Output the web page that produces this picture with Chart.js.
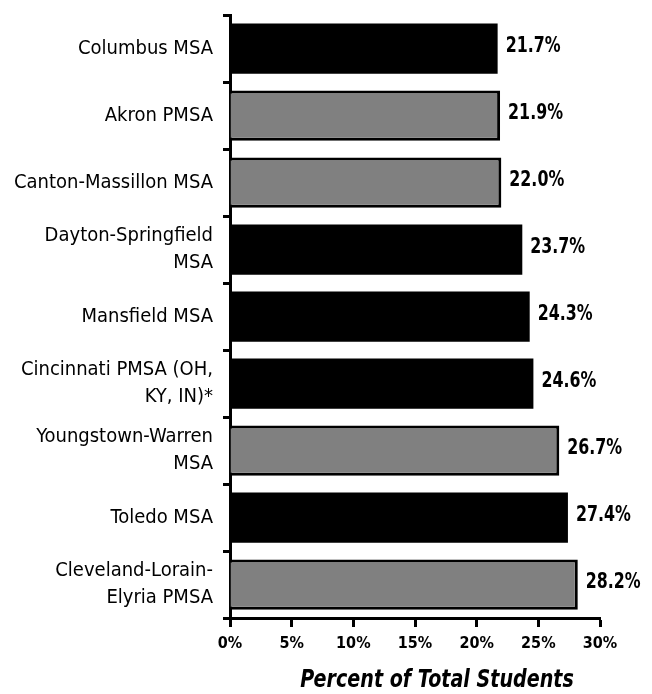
<!DOCTYPE html>
<html>
<head>
<meta charset="utf-8">
<script src="https://cdn.jsdelivr.net/npm/chart.js@4.4.1/dist/chart.umd.min.js"></script>
<style>
  html, body { margin: 0; background: #fff; }
  canvas { display: block; }
</style>
</head>
<body>
<canvas id="chart" width="652" height="694"></canvas>
<script>
// data
const areas = [
  ['Columbus MSA'],
  ['Akron PMSA'],
  ['Canton-Massillon MSA'],
  ['Dayton-Springfield', 'MSA'],
  ['Mansfield MSA'],
  ['Cincinnati PMSA (OH,', 'KY, IN)*'],
  ['Youngstown-Warren', 'MSA'],
  ['Toledo MSA'],
  ['Cleveland-Lorain-', 'Elyria PMSA']
];
const shares = [21.7, 21.9, 22.0, 23.7, 24.3, 24.6, 26.7, 27.4, 28.2];
// which areas are drawn as grey bars in the original
const greyGroup = [false, true, true, false, false, false, true, false, true];
const xTicks = [0, 5, 10, 15, 20, 25, 30];
const xTitle = 'Percent of Total Students';

const FONT = "'Liberation Sans Narrow', 'DejaVu Sans Condensed', sans-serif";

// value labels + axis title, drawn a bit squeezed to look like the condensed original font
const extraText = {
  id: 'extraText',
  afterDatasetsDraw(chart) {
    const ctx = chart.ctx;
    const meta = chart.getDatasetMeta(0);
    ctx.save();
    ctx.font = 'bold 22px ' + FONT;
    ctx.fillStyle = '#000';
    ctx.textAlign = 'left';
    ctx.textBaseline = 'middle';
    meta.data.forEach((bar, i) => {
      ctx.save();
      ctx.translate(bar.x + 8, bar.y - 2);
      ctx.scale(0.8, 1);
      ctx.fillText(shares[i].toFixed(1) + '%', 0, 0);
      ctx.restore();
    });
    // axis title
    const x = chart.scales.x;
    ctx.font = 'italic bold 25px ' + FONT;
    ctx.textAlign = 'center';
    ctx.translate((x.left + x.right) / 2 + 22, x.bottom - 14);
    ctx.scale(0.85, 1);
    ctx.fillText(xTitle, 0, 0);
    ctx.restore();
  }
};

new Chart(document.getElementById('chart'), {
  type: 'bar',
  data: {
    labels: areas,
    datasets: [{
      data: shares,
      backgroundColor: greyGroup.map(g => g ? '#808080' : '#000'),
      borderColor: '#000',
      borderWidth: greyGroup.map(g => g ? 3 : 0),
      barPercentage: 0.75,
      categoryPercentage: 1
    }]
  },
  options: {
    indexAxis: 'y',
    responsive: false,
    animation: false,
    layout: { padding: { top: 15, right: 52, left: 0, bottom: 0 } },
    plugins: { legend: { display: false }, tooltip: { enabled: false } },
    scales: {
      x: {
        min: 0, max: 30,
        afterBuildTicks: s => { s.ticks = xTicks.map(v => ({ value: v })); },
        afterFit: s => { s.height = 76; s.paddingLeft = 0; s.paddingRight = 0; },
        grid: { drawOnChartArea: false, drawTicks: true, tickLength: 9, tickWidth: 3, tickColor: '#000' },
        border: { display: true, color: '#000', width: 3 },
        ticks: {
          color: '#000', padding: 7,
          font: { family: FONT, size: 16, weight: 'bold' },
          callback: v => v + '%'
        }
      },
      y: {
        afterFit: s => { s.width = 230; s.paddingTop = 0; s.paddingBottom = 0; },
        grid: { drawOnChartArea: false, drawTicks: true, tickLength: 7, tickWidth: 3, tickColor: '#000', offset: true },
        border: { display: true, color: '#000', width: 3 },
        ticks: {
          color: '#000', padding: 10,
          font: { family: FONT, size: 20, lineHeight: 1.35 }
        }
      }
    }
  },
  plugins: [extraText]
});
</script>
</body>
</html>
